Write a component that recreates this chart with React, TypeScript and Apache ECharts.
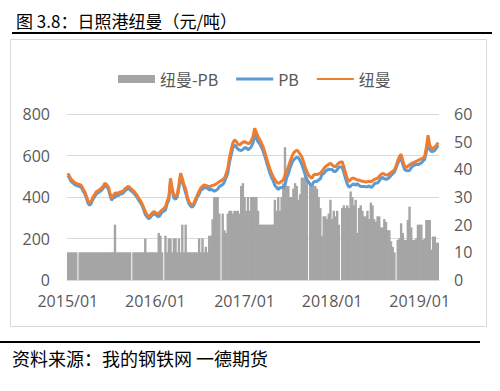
import React, { useEffect, useRef } from "react";
import * as echarts from "echarts";

// Weekly observations starting 2015-01-02
const START_DATE = Date.UTC(2015, 0, 2);
const WEEK_COUNT = 221;
const weekDates: string[] = Array.from({ length: WEEK_COUNT }, (_, i) => {
  const d = new Date(START_DATE + i * 7 * 86400000);
  return `${d.getUTCFullYear()}-${String(d.getUTCMonth() + 1).padStart(2, "0")}-${String(d.getUTCDate()).padStart(2, "0")}`;
});

// 纽曼 price (元/吨), weekly
const newmanPrice: number[] = [
  514, 500, 484, 478, 470, 466, 462, 460, 456, 440,
  426, 405, 380, 370, 382, 401, 412, 426, 430, 436,
  442, 452, 466, 460, 450, 420, 394, 408, 418, 420,
  416, 426, 424, 430, 440, 446, 452, 444, 437, 430,
  420, 410, 396, 384, 370, 350, 330, 315, 305, 312,
  322, 329, 326, 320, 321, 330, 338, 344, 353, 378,
  401, 490, 440, 410, 404, 412, 460, 514, 490, 458,
  440, 400, 377, 366, 361, 372, 392, 410, 428, 444,
  452, 458, 456, 452, 450, 452, 456, 458, 462, 468,
  474, 478, 484, 490, 510, 538, 590, 626, 660, 675,
  668, 656, 650, 658, 664, 667, 662, 658, 659, 672,
  691, 731, 712, 691, 676, 660, 642, 616, 590, 562,
  536, 515, 498, 484, 472, 466, 470, 476, 482, 505,
  526, 546, 570, 592, 611, 620, 626, 618, 606, 594,
  570, 545, 522, 505, 496, 490, 506, 510, 508, 512,
  514, 525, 536, 546, 552, 558, 562, 555, 548, 546,
  556, 564, 568, 570, 545, 514, 490, 474, 484, 490,
  490, 486, 482, 482, 478, 476, 474, 472, 474, 476,
  474, 478, 484, 488, 490, 500, 508, 514, 510, 506,
  506, 512, 518, 524, 530, 550, 575, 595, 606, 575,
  548, 542, 548, 554, 560, 564, 568, 572, 576, 580,
  584, 588, 596, 640, 698, 650, 630, 636, 640, 650,
  662,
];

// 纽曼 - PB spread (元/吨), weekly; null = no quote that week
const spread: (number | null)[] = [
  10, 10, 10, 10, 10, 10, null, 10, 10, 10,
  10, 10, 10, 10, 10, 10, 10, 10, 10, 10,
  10, 10, 10, 10, 10, 10, 10, 10, 20, 10,
  10, 10, 10, 10, 10, 10, 10, 10, null, 10,
  10, 10, 10, 10, 10, 10, 15, 10, 10, 10,
  10, 10, 10, 10, 17, 16, 10, null, 16, 10,
  15, 15, 10, 15, 15, 10, 15, 10, 20, 10,
  20, 10, 10, 10, 10, 10, 10, 10, 15, 10,
  15, 10, 12, 10, 16, 16, 22, 30, 30, 30,
  24, null, 24, 18, 17, 24, 25, 25, 24, 25,
  25, 25, 24, 34, 35, 30, 25, 30, 25, 30,
  30, 30, 30, 25, 20, 20, 20, 20, 20, 20,
  20, 20, 20, 29, 25, 30, 25, 30, 35, 48,
  34, 34, 30, 30, 33, 35, 34, 29, 31, 37,
  37, 38, 37, null, 35, 35, 34, 34, 33, 30,
  26, 16, 23, 23, 22, 24, 29, 22, 25, 23,
  25, 20, null, 26, 27, 26, 27, 26, 32, 30,
  27, 29, 17, 26, 27, 25, 23, 23, 25, 22,
  28, 27, 22, 21, 23, 23, 19, 19, 22, 21,
  18, 18, 14, 12, 10, null, 14.5, 15, 20.5, 17,
  14.5, 14.5, 21.7, 26.5, 19, 14.5, 14.5, 15, 20, 20,
  20, 14.5, 15, 21.7, 21.7, 21.7, 11, 15.7, 15.7, 13.5,
  13.5,
];

// PB price derived from the two series above
const pbPrice: (number | null)[] = newmanPrice.map((v, i) =>
  spread[i] == null ? null : v - (spread[i] as number)
);

const seriesNames = ["纽曼-PB", "PB", "纽曼"];
const leftTicks = [0, 200, 400, 600, 800];
const rightTicks = [0, 10, 20, 30, 40, 50, 60];

const titleText = "图 3.8：日照港纽曼（元/吨）";
const sourceText = "资料来源：我的钢铁网 一德期货";

const LABEL_FONT = "'Open Sans', 'Liberation Sans', sans-serif";
const CJK_FONT = "'Noto Sans CJK SC', sans-serif";

// legend icons: thin horizontal strokes inside a 37x8 box
const THICK_LINE_ICON = "path://M0,0L0,0M0,2.6H37V5.4H0ZM0,8L0,8";
const THIN_LINE_ICON = "path://M0,0L0,0M0,3.1H37V4.9H0ZM0,8L0,8";

export default function App() {
  const ref = useRef<HTMLDivElement>(null);

  useEffect(() => {
    if (!ref.current) return;
    const chart = echarts.init(ref.current, null, { renderer: "svg" });
    const option: any = {
      animation: false,
      backgroundColor: "#ffffff",
      legend: {
        left: 113,
        top: 66,
        itemWidth: 37,
        itemHeight: 8,
        itemGap: 18,
        itemStyle: { borderWidth: 0 },
        textStyle: { fontSize: 16, color: "#595959", fontFamily: CJK_FONT },
        data: [
          { name: seriesNames[0], icon: "rect" },
          { name: seriesNames[1], icon: THICK_LINE_ICON },
          { name: seriesNames[2], icon: THIN_LINE_ICON },
        ],
      },
      grid: { left: 67, right: 61, top: 114, bottom: 111, outerBoundsMode: "none" },
      xAxis: {
        type: "category",
        data: weekDates,
        boundaryGap: true,
        axisLine: { show: true, lineStyle: { color: "#d9d9d9", width: 1 } },
        axisTick: { show: false },
        splitLine: { show: false },
        axisLabel: {
          interval: (_idx: number, val: string) => {
            const parts = val.split("-");
            return parts[1] === "01" && Number(parts[2]) <= 7;
          },
          formatter: (val: string) => {
            const parts = val.split("-");
            return `${parts[0]}/${parts[1]}`;
          },
          color: "#595959",
          fontSize: 16,
          fontFamily: LABEL_FONT,
          margin: 13,
          hideOverlap: false,
        },
      },
      yAxis: [
        {
          type: "value",
          min: leftTicks[0],
          max: leftTicks[leftTicks.length - 1],
          interval: leftTicks[1] - leftTicks[0],
          axisLine: { show: false },
          axisTick: { show: false },
          splitLine: { show: true, lineStyle: { color: "#d9d9d9", width: 1 } },
          axisLabel: { color: "#595959", fontSize: 16, fontFamily: LABEL_FONT, margin: 17 },
        },
        {
          type: "value",
          position: "right",
          min: rightTicks[0],
          max: rightTicks[rightTicks.length - 1],
          interval: rightTicks[1] - rightTicks[0],
          axisLine: { show: false },
          axisTick: { show: false },
          splitLine: { show: false },
          axisLabel: { color: "#595959", fontSize: 16, fontFamily: LABEL_FONT, margin: 15 },
        },
      ],
      series: [
        {
          name: seriesNames[0],
          type: "bar",
          yAxisIndex: 1,
          data: spread.map((v) => (v == null ? "-" : v)),
          barWidth: 2.4,
          itemStyle: { color: "#a5a5a5" },
          z: 1,
        },
        {
          name: seriesNames[1],
          type: "line",
          yAxisIndex: 0,
          data: pbPrice.map((v) => (v == null ? "-" : v)),
          connectNulls: true,
          symbol: "none",
          lineStyle: { color: "#5b9bd5", width: 3 },
          itemStyle: { color: "#5b9bd5" },
          z: 3,
        },
        {
          name: seriesNames[2],
          type: "line",
          yAxisIndex: 0,
          data: newmanPrice,
          symbol: "none",
          lineStyle: { color: "#ed7d31", width: 3 },
          itemStyle: { color: "#ed7d31" },
          z: 4,
        },
      ],
      graphic: [
        {
          type: "rect",
          z: -1,
          shape: { x: 10.5, y: 39.5, width: 476, height: 287 },
          style: { fill: "none", stroke: "#d9d9d9", lineWidth: 1 },
        },
        {
          type: "text",
          x: 16,
          y: 20,
          style: {
            text: titleText,
            fontSize: 17,
            fontFamily: CJK_FONT,
            fill: "#000000",
            verticalAlign: "middle",
          },
        },
        {
          type: "line",
          shape: { x1: 12, y1: 33, x2: 492, y2: 33 },
          style: { stroke: "#000000", lineWidth: 2 },
        },
        {
          type: "line",
          shape: { x1: 0, y1: 342, x2: 480, y2: 342 },
          style: { stroke: "#000000", lineWidth: 2 },
        },
        {
          type: "text",
          x: 12,
          y: 358,
          style: {
            text: sourceText,
            fontSize: 18,
            fontFamily: CJK_FONT,
            fill: "#000000",
            verticalAlign: "middle",
          },
        },
      ],
    };
    chart.setOption(option);
    return () => chart.dispose();
  }, []);

  return (
    <div
      ref={ref}
      style={{ position: "absolute", left: 0, top: 0, width: 500, height: 391 }}
    />
  );
}
